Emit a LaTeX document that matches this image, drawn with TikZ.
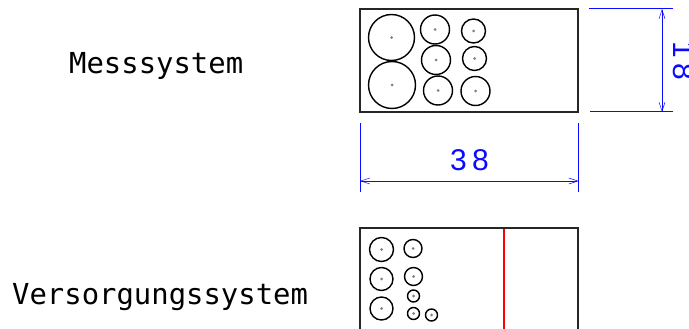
\documentclass[tikz,border=0pt]{standalone}
\usepackage{fontspec}
\setmonofont{DejaVu Sans Mono}
\newfontfamily\dimfont[LetterSpace=18]{Liberation Sans}
\usetikzlibrary{arrows.meta}
\definecolor{dimblue}{RGB}{10,10,255}
\definecolor{cutred}{RGB}{255,0,0}
\tikzset{
  x=1pt,y=-1pt,
  lab/.style={font=\ttfamily\fontsize{28.9}{29}\selectfont,text=black,inner sep=0pt},
  dimtext/.style={font=\dimfont\fontsize{30}{30}\selectfont,text=dimblue,inner sep=0pt},
  frame/.style={draw=black!85,line width=1.6pt},
  hole/.style={draw=black,line width=1.4pt},
  dimline/.style={draw=dimblue,line width=1pt},
  dimarrow/.style={draw=dimblue,line width=1pt,{Straight Barb[length=9pt,width=6pt,line width=0.5pt]}-{Straight Barb[length=9pt,width=6pt,line width=0.5pt]}},
  cutline/.style={draw=cutred,line width=2pt},
}
\newcommand{\hl}[3]{\draw[hole] (#1,#2) circle[radius=#3]; \fill[black!50] (#1,#2) circle[radius=1.5];}
\begin{document}
\begin{tikzpicture}
\useasboundingbox (0,0) rectangle (689,329);
% lower part
\coordinate (l1) at (360,329); \coordinate (l2) at (360,228);
\coordinate (l3) at (578,228); \coordinate (l4) at (578,329);
\coordinate (r1) at (504,228); \coordinate (r2) at (504,329);
\draw[cutline] (r1) -- (r2);
\draw[frame] (l1) -- (l2) -- (l3) -- (l4);
\hl{381.5}{249.5}{12}
\hl{381.5}{279}{11.5}
\hl{381.5}{308.5}{11.5}
\hl{413}{248.5}{9}
\hl{413.5}{276.5}{9}
\hl{413.5}{296}{6}
\hl{413.5}{313.5}{6}
\hl{431.5}{315}{6}
\node[lab,anchor=west] (mess) at (69,66) {Messsystem};
\node[lab,anchor=west] (vers) at (12,297) {Versorgungssystem};
\coordinate (tl) at (360,9); \coordinate (tr) at (578,9);
\coordinate (bl) at (360,112); \coordinate (br) at (578,112);
\draw[frame] (tl) rectangle (br);
\hl{391.5}{37.5}{23}
\hl{392}{85}{23.5}
\hl{435}{29.5}{14.5}
\hl{436}{60}{14.5}
\hl{438}{90.5}{14.5}
\hl{473.5}{31}{12}
\hl{474.5}{58.5}{12}
\hl{475.5}{91}{14.5}
% height dimension
\coordinate (h1) at (589,8.5); \coordinate (h1e) at (673,8.5);
\coordinate (h2) at (590,112); \coordinate (h2e) at (673,112);
\draw[dimline] (h1) -- (h1e);
\draw[dimline] (h2) -- (h2e);
\coordinate (a1) at (662,9); \coordinate (a2) at (662,112);
\draw[dimarrow] (a1) -- (a2);
\node[dimtext,rotate=-90] (hval) at (684,61) {18};
% width dimension
\coordinate (w1) at (360,123); \coordinate (w1e) at (360,192);
\coordinate (w2) at (578.5,123); \coordinate (w2e) at (578.5,192);
\draw[dimline] (w1) -- (w1e);
\draw[dimline] (w2) -- (w2e);
\coordinate (b1) at (360,181); \coordinate (b2) at (578.5,181);
\draw[dimarrow] (b1) -- (b2);
\node[dimtext] (wval) at (469.5,160) {38};
\end{tikzpicture}
\end{document}
